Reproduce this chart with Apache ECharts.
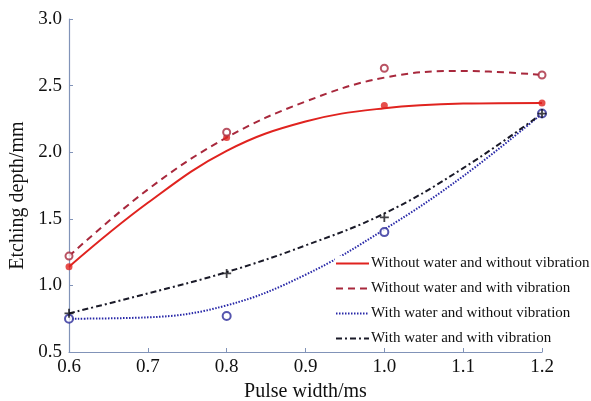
<!DOCTYPE html>
<html>
<head>
<meta charset="utf-8">
<script src="https://cdn.jsdelivr.net/npm/echarts@6/dist/echarts.min.js"></script>
<style>html,body{margin:0;padding:0;background:#fff;}#c{width:591px;height:401px;}</style>
</head>
<body>
<div id="c"></div>
<script>
// Measured pulse widths (ms)
var pulseX = [0.6, 0.8, 1.0, 1.2];
// Measured etching depths (mm)
var s1Pts = [1.14, 2.11, 2.35, 2.37]; // Without water and without vibration
var s2Pts = [1.22, 2.15, 2.63, 2.58]; // Without water and with vibration
var s3Pts = [0.75, 0.77, 1.40, 2.29]; // With water and without vibration
var s4Pts = [0.79, 1.09, 1.51, 2.29]; // With water and with vibration
// Fitted curves
var fitX = [0.6, 0.7, 0.8, 0.9, 1.0, 1.1, 1.2];
var s1Fit = [1.14, 1.62, 2.01, 2.23, 2.33, 2.365, 2.37];
var s2Fit = [1.22, 1.72, 2.11, 2.38, 2.56, 2.61, 2.58];
var s3Fit = [0.75, 0.76, 0.85, 1.08, 1.42, 1.82, 2.29];
var s4Fit = [0.79, 0.94, 1.10, 1.30, 1.54, 1.88, 2.29];
var names = ['Without water and without vibration','Without water and with vibration','With water and without vibration','With water and with vibration'];
var xTicks = ['0.6','0.7','0.8','0.9','1.0','1.1','1.2'];
var yTicks = ['0.5','1.0','1.5','2.0','2.5','3.0'];

function pairs(xs, ys){ return xs.map(function(x,i){ return [x, ys[i]]; }); }

var FONT = '"Liberation Serif", "Times New Roman", serif';
var AX = '#8193b8';
var plusPath = 'path://M-1,-5H1V5H-1Z M-5,-1H5V1H-5Z';

var chart = echarts.init(document.getElementById('c'), null, {renderer:'canvas'});
chart.setOption({
  animation:false,
  backgroundColor:'#fff',
  grid:{left:69, right:49, top:19, bottom:49, containLabel:false, outerBoundsMode:'none'},
  legend:{
    data:names, orient:'vertical', left:335, top:256,
    itemWidth:33, itemHeight:12, itemGap:10,
    backgroundColor:'#fff',
    padding:[0,0,0,0],
    itemStyle:{opacity:0},
    textStyle:{fontFamily:FONT, fontSize:15, color:'#111', padding:[0,0,0,-3]}
  },
  xAxis:{
    type:'value', min:0.6, max:1.2, interval:0.1,
    name:'Pulse width/ms', nameLocation:'middle', nameGap:30,
    nameTextStyle:{fontFamily:FONT, fontSize:20, color:'#111'},
    axisLine:{show:true, lineStyle:{color:AX, width:1.2}},
    axisTick:{show:true, inside:true, length:4, lineStyle:{color:AX}},
    splitLine:{show:false},
    axisLabel:{fontFamily:FONT, fontSize:19, color:'#111', margin:6,
      formatter:function(v){ var i=Math.round((v-0.6)/0.1); return xTicks[i]; }}
  },
  yAxis:{
    type:'value', min:0.5, max:3.0, interval:0.5,
    name:'Etching depth/mm', nameLocation:'middle', nameGap:40,
    nameTextStyle:{fontFamily:FONT, fontSize:20, color:'#111', padding:[0,20,0,0]},
    axisLine:{show:true, lineStyle:{color:AX, width:1.2}},
    axisTick:{show:true, inside:true, length:4, lineStyle:{color:AX}},
    splitLine:{show:false},
    axisLabel:{fontFamily:FONT, fontSize:19, color:'#111', margin:7,
      formatter:function(v){ var i=Math.round((v-0.5)/0.5); return yTicks[i]; }}
  },
  series:[
    {name:names[0], type:'line', data:pairs(fitX,s1Fit), smooth:0.4, symbol:'none',
      lineStyle:{color:'#e0231f', width:2, type:'solid'}, itemStyle:{color:'#e0231f'}, z:3},
    {name:names[1], type:'line', data:pairs(fitX,s2Fit), smooth:0.4, symbol:'none',
      lineStyle:{color:'#a8283c', width:2, type:[7,5]}, itemStyle:{color:'#a8283c'}, z:3},
    {name:names[2], type:'line', data:pairs(fitX,s3Fit), smooth:0.4, symbol:'none',
      lineStyle:{color:'#2828a8', width:2, type:[1.5,1.5]}, itemStyle:{color:'#2828a8'}, z:3},
    {name:names[3], type:'line', data:pairs(fitX,s4Fit), smooth:0.4, symbol:'none',
      lineStyle:{color:'#1a1a28', width:2, type:[6,3,2,3]}, itemStyle:{color:'#1a1a28'}, z:3},
    {type:'scatter', data:pairs(pulseX,s1Pts), symbol:'circle', symbolSize:7,
      itemStyle:{color:'#e0231f'}, z:5},
    {type:'scatter', data:pairs(pulseX,s2Pts), symbol:'circle', symbolSize:7,
      itemStyle:{color:'#ffffff', borderColor:'#a8283c', borderWidth:2}, z:5},
    {type:'scatter', data:pairs(pulseX,s3Pts), symbol:'circle', symbolSize:8,
      itemStyle:{color:'#ffffff', borderColor:'#2a2a9a', borderWidth:2}, z:5},
    {type:'scatter', data:pairs(pulseX,s4Pts), symbol:plusPath, symbolSize:9,
      itemStyle:{color:'#111118'}, z:6}
  ]
});
</script>
</body>
</html>
